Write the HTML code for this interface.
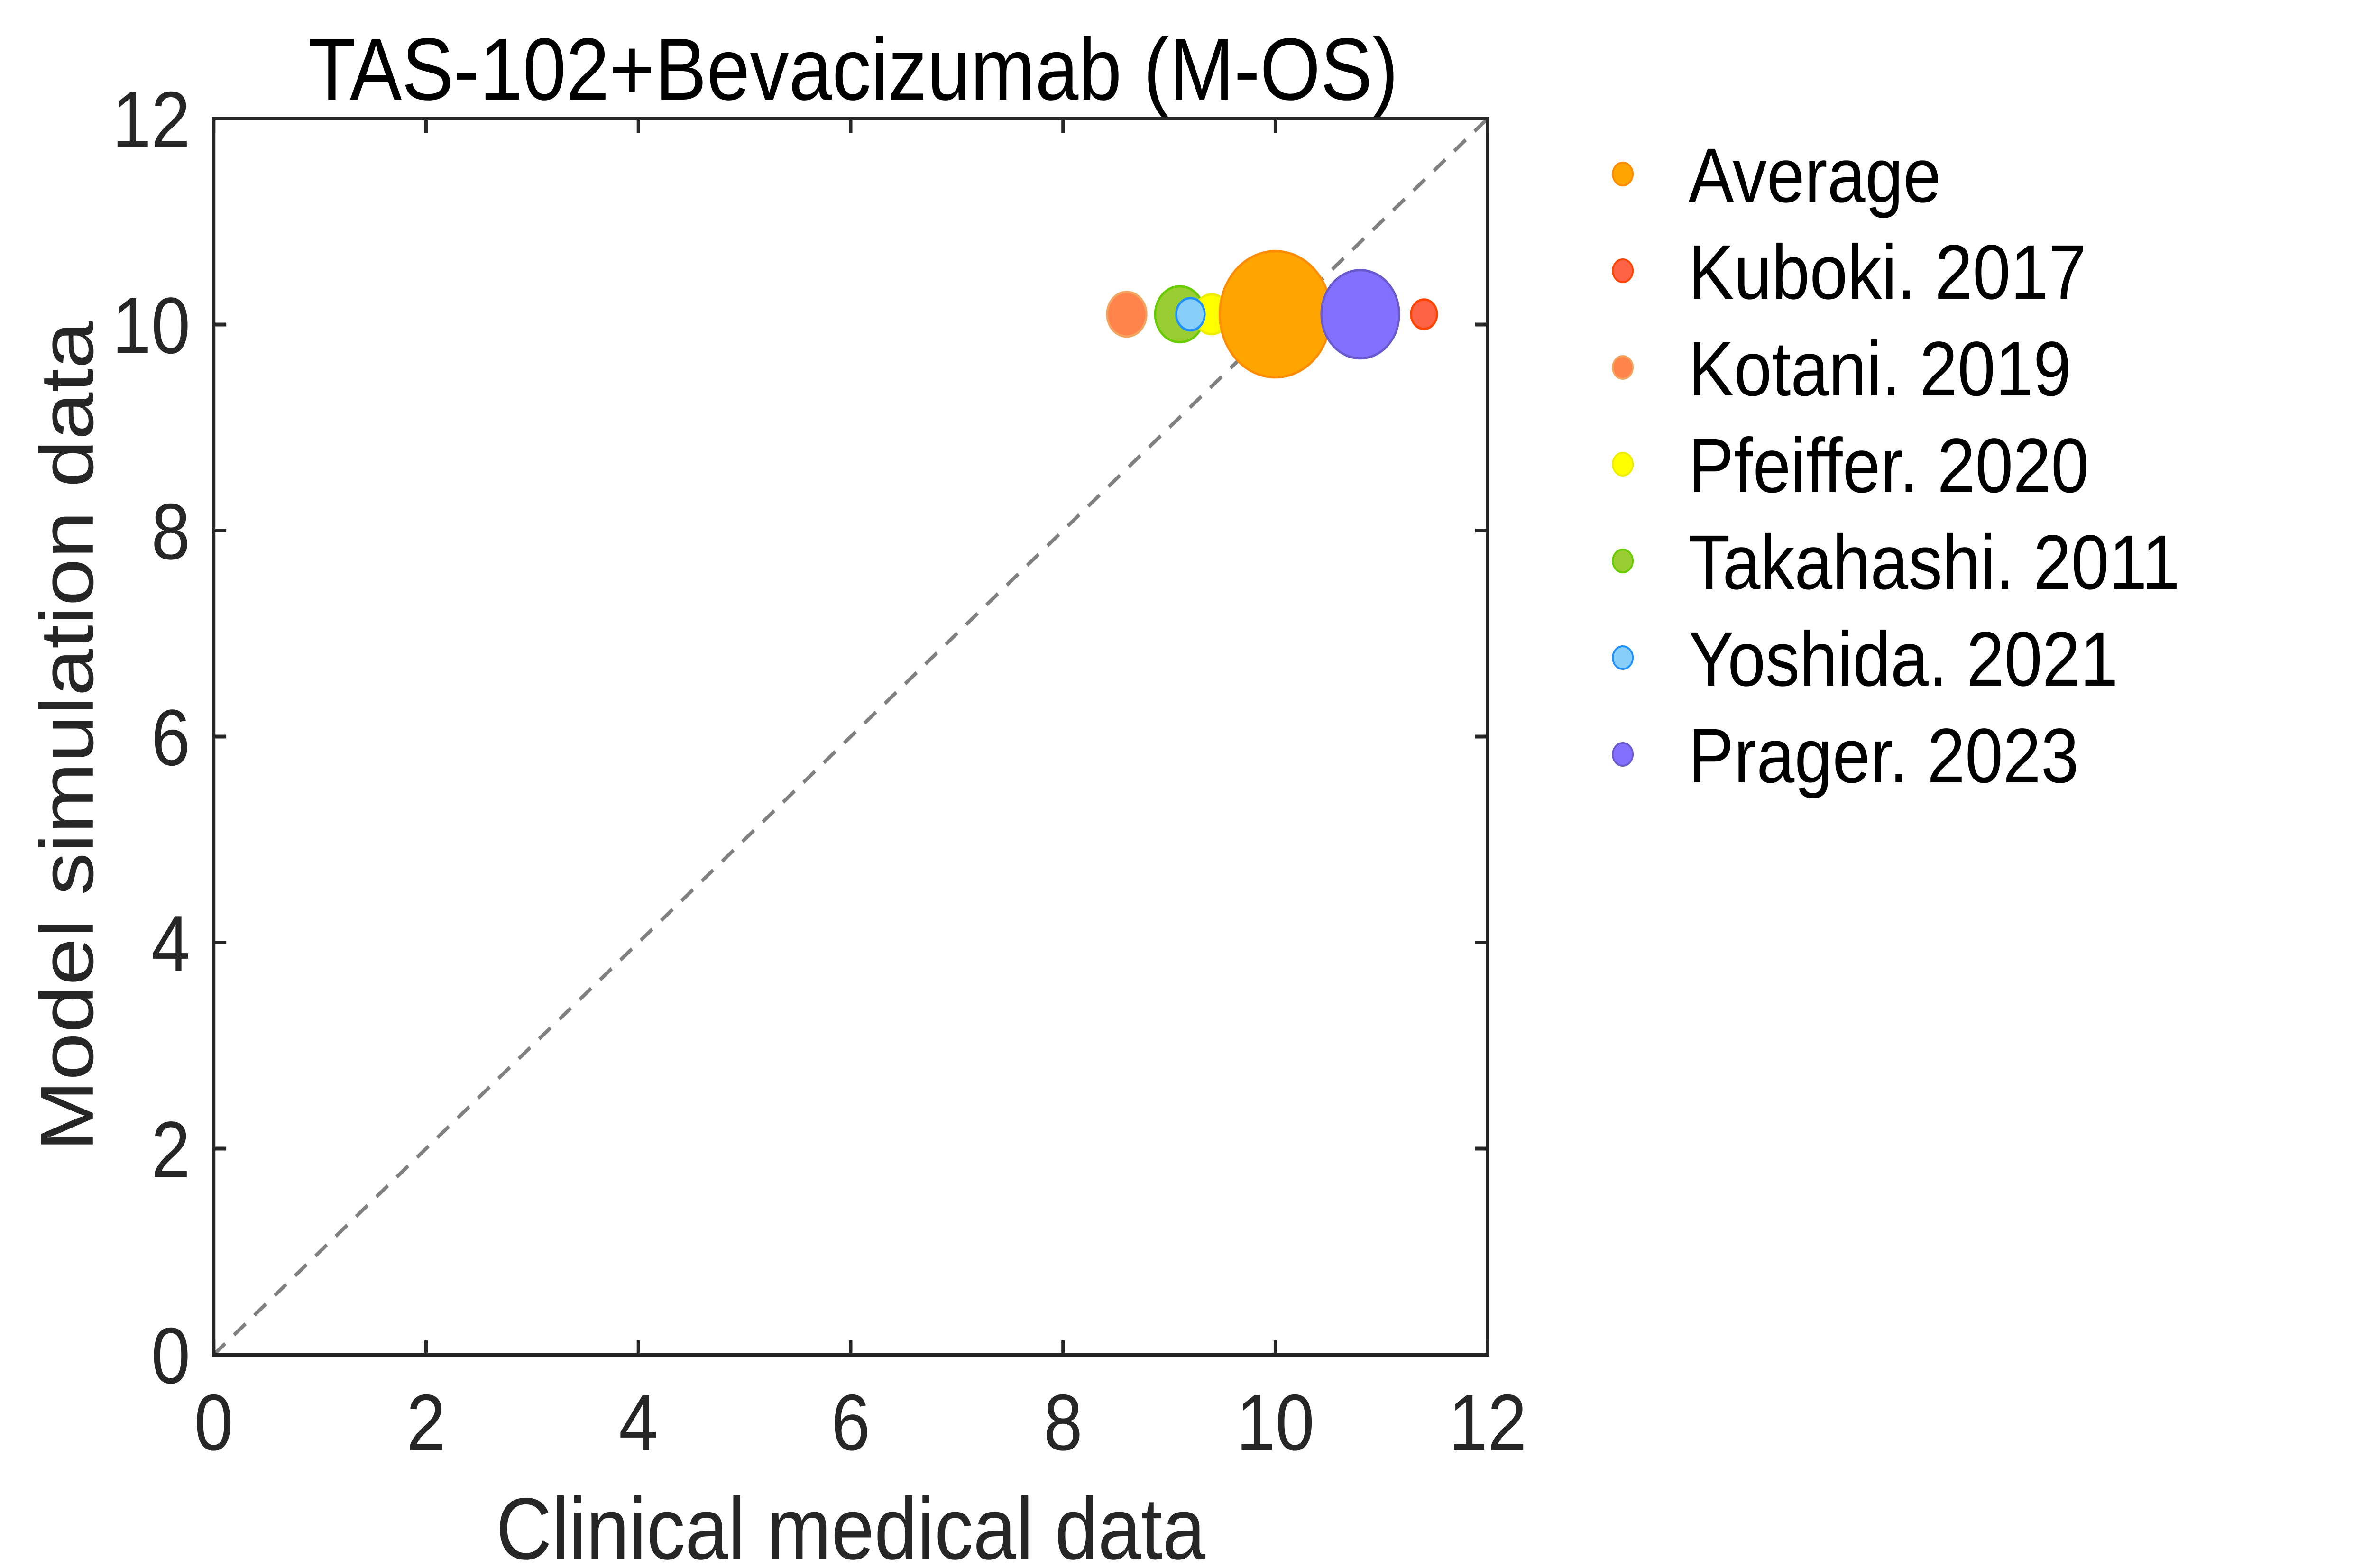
<!DOCTYPE html>
<html><head><meta charset="utf-8"><style>
html,body{margin:0;padding:0;background:#fff;width:100%;height:100%;overflow:hidden;}
svg{display:block;position:absolute;left:0;top:0;width:100vw;height:100vh;}
text{font-family:"Liberation Sans",Arial,sans-serif;fill:#262626;}
</style></head><body>
<svg id="chart" viewBox="0 0 5669 3307" preserveAspectRatio="none" xmlns="http://www.w3.org/2000/svg">
<rect x="0" y="0" width="5669" height="3307" fill="#fff"/>
<text x="2040" y="210" font-size="186" text-anchor="middle" style="fill:#000">TAS-102+Bevacizumab (M-OS)</text>
<g id="plot"></g>
<text x="2034" y="3288" font-size="185" text-anchor="middle">Clinical medical data</text>
<text transform="translate(222,1553) rotate(-90)" font-size="180" text-anchor="middle">Model simulation data</text>
<g id="legend"></g>
</svg>
<script>
const seriesNames = ["Average","Kuboki. 2017","Kotani. 2019","Pfeiffer. 2020","Takahashi. 2011","Yoshida. 2021","Prager. 2023"];
const clinicalValues = [10.0, 11.4, 8.6, 9.4, 9.1, 9.2, 10.8];
const simulatedValues = [10.1, 10.1, 10.1, 10.1, 10.1, 10.1, 10.1];
const markerSizes = [133, 31, 47, 42, 59, 34, 93];
const xTicks = [0, 2, 4, 6, 8, 10, 12];
const yTicks = [0, 2, 4, 6, 8, 10, 12];

const fills = ["#FFA500","#FF6347","#FF834A","#FFFF00","#9ACD32","#87CEFA","#8470FF"];
const strokes = ["#FF8C00","#FF4500","#F4A460","#EEEE00","#66CC00","#1E90FF","#6A5ACD"];
const drawOrder = [1,2,4,3,0,5,6];
const L=511,R=3557,T=250,B=2857,xmin=0,xmax=12,ymin=0,ymax=12;
const sx=v=>L+(v-xmin)/(xmax-xmin)*(R-L);
const sy=v=>B-(v-ymin)/(ymax-ymin)*(B-T);
const NS="http://www.w3.org/2000/svg";
const plot=document.getElementById('plot');
function mk(tag,attrs,parent){const e=document.createElementNS(NS,tag);for(const k in attrs)e.setAttribute(k,attrs[k]);parent.appendChild(e);return e;}

const diag=mk('line',{x1:sx(0),y1:sy(0),x2:sx(12),y2:sy(12),stroke:'#808080','stroke-width':8,'stroke-dasharray':'36 28'},plot);



drawOrder.forEach(i=>{
  const c=mk('circle',{cx:sx(clinicalValues[i]),cy:sy(simulatedValues[i]),r:markerSizes[i],fill:fills[i],stroke:strokes[i],'stroke-width':5},plot);
  
  
});

const box=mk('rect',{x:L,y:T,width:R-L,height:B-T,fill:'none',stroke:'#262626','stroke-width':8},plot);



xTicks.forEach(v=>{
  const x=sx(v);
  const t1=mk('line',{x1:x,y1:B,x2:x,y2:B-30,stroke:'#262626','stroke-width':8},plot);
  
  
  const t2=mk('line',{x1:x,y1:T,x2:x,y2:T+30,stroke:'#262626','stroke-width':8},plot);
  
  
  const lb=mk('text',{x:x,y:B+201,'font-size':168,'text-anchor':'middle'},plot);
  lb.textContent=v;
  
  
});
yTicks.forEach(v=>{
  const y=sy(v);
  const t1=mk('line',{x1:L,y1:y,x2:L+30,y2:y,stroke:'#262626','stroke-width':8},plot);
  
  
  const t2=mk('line',{x1:R,y1:y,x2:R-30,y2:y,stroke:'#262626','stroke-width':8},plot);
  
  
  const lb=mk('text',{x:455,y:y+60,'font-size':168,'text-anchor':'end'},plot);
  lb.textContent=v;
  
  
});

const legend=document.getElementById('legend');
seriesNames.forEach((n,i)=>{
  const y=367+i*204;
  const g=mk('g',{},legend);
  
  
  const c=mk('circle',{cx:3880,cy:y,r:24,fill:fills[i],stroke:strokes[i],'stroke-width':4},g);
  
  
  const t=mk('text',{x:4037,y:y+59,'font-size':163,style:'fill:#000'},g);
  t.textContent=n;
  
  
});
</script>
</body></html>
